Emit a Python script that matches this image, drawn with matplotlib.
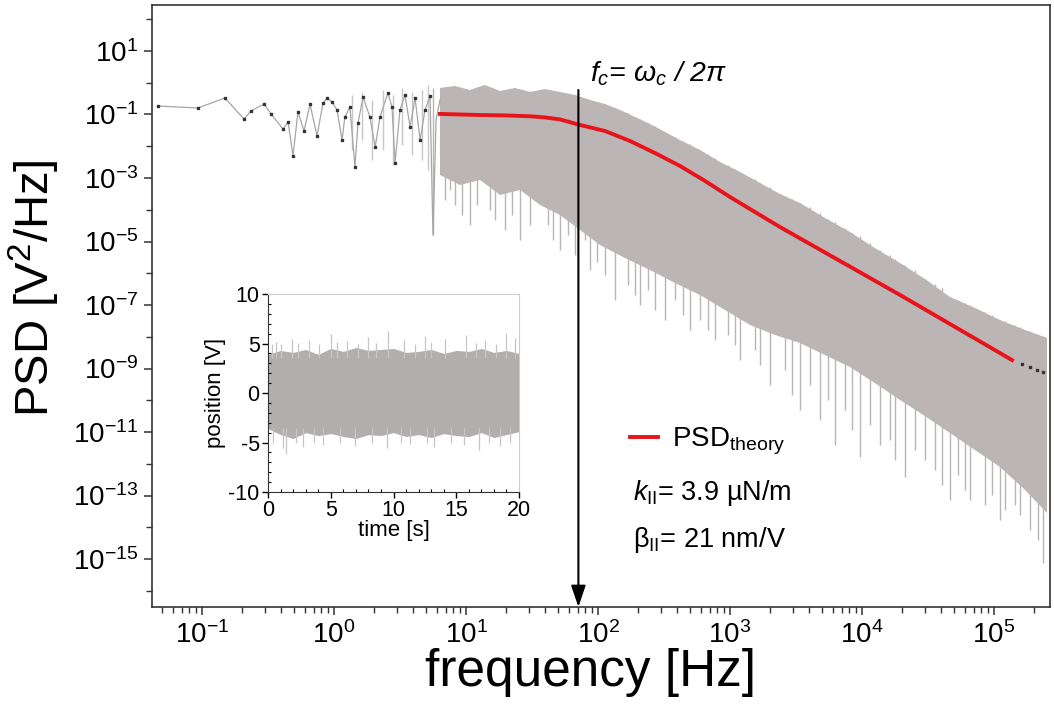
import numpy as np
import matplotlib
matplotlib.use("Agg")
import matplotlib.pyplot as plt
from matplotlib.ticker import FixedLocator, NullFormatter, LogFormatterSciNotation, MultipleLocator

plt.rcParams['font.family'] = ['Liberation Sans', 'DejaVu Sans']
plt.rcParams['mathtext.fontset'] = 'custom'
plt.rcParams['mathtext.rm'] = 'Liberation Sans'
plt.rcParams['mathtext.it'] = 'Liberation Sans:italic'
plt.rcParams['mathtext.bf'] = 'Liberation Sans:bold'
plt.rcParams['axes.unicode_minus'] = False

# --- low frequency part of the measured PSD (thin line with points) ---
low_f = [0.0464, 0.093, 0.149, 0.208, 0.235, 0.295, 0.333, 0.411, 0.449, 0.489,
         0.533, 0.593, 0.658, 0.743, 0.826, 0.885, 0.966, 1.054, 1.15, 1.21,
         1.32, 1.44, 1.52, 1.66, 1.87, 2.05, 2.23, 2.56, 2.75, 2.90,
         3.16, 3.45, 3.77, 4.11, 4.49, 4.89, 5.34, 5.62, 5.93, 6.35]
low_psd = [0.185, 0.160, 0.331, 0.0721, 0.129, 0.214, 0.104, 0.0349, 0.0581, 0.00493,
           0.120, 0.0302, 0.214, 0.0210, 0.230, 0.331, 0.248, 0.139, 0.0157, 0.0834,
           0.172, 0.00222, 0.0540, 0.356, 0.0834, 0.00946, 0.0834, 0.475, 0.172, 0.00296,
           0.139, 0.411, 0.0404, 0.331, 0.0157, 0.139, 0.383, 1.60e-5, 0.0671, 0.286]

# raw noisy strokes in the sparse region (frequency, low, high)
raw_f = [1.37, 1.63, 1.94, 2.35, 2.80, 3.27, 3.90, 4.64, 5.16]
raw_lo = [0.00762, 0.0157, 0.00369, 0.00762, 0.00256, 0.0109, 0.00530, 0.00369, 0.00179]
raw_hi = [0.411, 0.512, 0.286, 0.592, 0.411, 0.684, 0.512, 0.592, 0.849]

# --- envelope of the dense measured PSD band ---
upper_f = [6.35, 8.26, 10.7, 13.9, 18.1, 23.5, 30.5, 39.6, 51.5, 66.9,
           86.9, 113, 147, 191, 248, 322, 418, 593, 840, 1190,
           1690, 2390, 3390, 5240, 8110, 12500, 19400, 30000, 46400, 71800,
           111000, 172000, 252000]
upper_psd = [0.684, 0.791, 0.592, 0.849, 0.550, 0.684, 0.512, 0.635, 0.512, 0.411,
             0.286, 0.214, 0.139, 0.0834, 0.0502, 0.0281, 0.0157, 0.00762, 0.00319, 0.00155,
             6.97e-4, 3.13e-4, 1.63e-4, 5.50e-5, 1.99e-5, 6.24e-6, 2.10e-6, 6.59e-7, 1.79e-7, 8.05e-8,
             3.37e-8, 1.63e-8, 9.14e-9]
lower_f = [6.35, 9.0, 12.8, 18.1, 25.7, 36.4, 51.5, 73.1, 103.5, 160,
           248, 383, 593, 916, 1420, 2190, 3390, 5240, 8110, 12500,
           19400, 30000, 46400, 71800, 111000, 172000, 252000]
lower_psd = [1.24e-3, 6.03e-4, 8.65e-4, 2.92e-4, 4.19e-4, 1.41e-4, 6.84e-5, 2.30e-5, 7.76e-6, 3.02e-6,
             1.26e-6, 4.93e-7, 2.07e-7, 6.97e-8, 2.34e-8, 1.14e-8, 6.35e-9, 2.66e-9, 1.11e-9, 3.49e-10,
             1.02e-10, 3.19e-11, 9.31e-12, 2.71e-12, 7.91e-13, 1.49e-13, 2.81e-14]

# downward spikes of the band (frequency, lowest value)
spike_f = [5.62, 6.93, 7.57, 8.26, 9.33, 10.7, 12.1, 15.2, 16.6, 19.8,
           22.3, 25.7, 30.5, 41.8, 45.6, 51.5, 59.3, 66.9, 79.8, 86.9,
           98.2, 113, 135, 169, 191, 208, 239, 270, 322, 383,
           441, 498, 593, 681, 769, 966, 1090, 1190, 1545, 1690,
           2010, 2610, 2950, 3390, 4040, 4810, 5520, 6240, 7430, 8390,
           9660, 11500, 13700, 16300, 17800, 21200, 25200, 30000, 35700, 40400,
           46400, 53400, 60300, 65800, 85500, 96500, 111000, 121000, 144000, 157000,
           187000, 215000, 235000]
spike_psd = [1.60e-5, 2.03e-4, 4.19e-4, 1.41e-4, 6.84e-5, 3.31e-5, 1.41e-4, 9.82e-5, 4.75e-5, 2.30e-5,
             6.84e-5, 1.11e-5, 3.31e-5, 3.31e-5, 1.11e-5, 5.40e-6, 1.60e-5, 3.76e-6, 1.11e-5, 1.26e-6,
             2.26e-6, 8.81e-7, 1.44e-7, 4.27e-7, 2.07e-7, 1.0e-7, 2.96e-7, 6.97e-8, 3.37e-8, 1.44e-7,
             4.84e-8, 1.63e-8, 3.37e-8, 1.63e-8, 7.91e-9, 1.14e-8, 5.50e-9, 1.85e-9, 3.83e-9, 1.29e-9,
             3.02e-10, 8.97e-10, 1.46e-10, 4.93e-11, 3.02e-10, 2.39e-11, 1.02e-10, 3.90e-12, 4.93e-11, 1.16e-11,
             1.63e-12, 1.66e-11, 3.90e-12, 5.60e-12, 1.31e-12, 3.83e-13, 2.71e-12, 1.31e-12, 6.35e-13, 2.14e-13,
             7.21e-14, 4.43e-13, 1.49e-13, 7.21e-14, 5.02e-14, 1.04e-13, 1.69e-14, 3.49e-14, 5.02e-14, 2.43e-14,
             8.18e-15, 3.96e-15, 7.48e-16]

# binned points past the end of the fit
tail_f = [163000, 187000, 212000, 235000]
tail_psd = [1.39e-9, 1.11e-9, 8.97e-10, 7.76e-10]

# --- theory curve ---
theory_f = [6.35, 12.8, 19.8, 30.5, 39.6, 51.5, 73.1, 113, 175, 270, 418, 647,
            1000, 1545, 2390, 19400, 136800]
theory_psd = [0.104, 0.0964, 0.0935, 0.0880, 0.0810, 0.0700, 0.0467, 0.0302, 0.0146, 0.00612,
              0.00239, 8.05e-4, 2.52e-4, 8.49e-5, 2.86e-5, 2.07e-7, 1.85e-9]

f_corner = 71

# --- inset time trace envelope ---
trace_t = list(range(21))
trace_upper = [3.9, 4.3, 4.1, 4.4, 3.9, 4.5, 4.2, 4.6, 4.3, 4.4, 4.5,
               4.1, 4.2, 4.4, 4.0, 4.3, 4.2, 4.5, 4.1, 4.3, 4.0]
trace_lower = [-3.6, -4.2, -4.6, -4.0, -4.3, -4.1, -4.4, -4.6, -4.2, -4.3, -4.0,
               -4.4, -4.2, -4.5, -4.1, -4.3, -4.4, -4.0, -4.5, -4.2, -3.9]
peak_t = [0.3, 0.6, 1.0, 1.9, 2.4, 3.3, 4.1, 5.0, 5.5, 6.3, 7.2, 8.0, 8.6, 9.6,
          10.8, 11.7, 12.5, 13.0, 14.1, 15.8, 16.6, 17.3, 18.2, 19.0, 19.7]
peak_v = [5.0, 5.2, 4.9, 5.5, 5.1, 5.4, 5.0, 6.0, 5.2, 5.3, 5.0, 5.7, 5.1, 6.3,
          5.4, 5.0, 5.8, 5.2, 5.5, 5.9, 5.1, 5.4, 5.0, 6.1, 5.6]
dip_t = [0.4, 1.2, 1.4, 2.2, 2.8, 3.7, 4.4, 5.7, 6.9, 8.3, 9.5, 10.6, 11.3,
         12.7, 13.2, 14.6, 15.6, 16.8, 17.6, 18.5, 19.3]
dip_v = [-5.0, -5.6, -6.2, -5.1, -5.5, -5.0, -5.3, -5.1, -5.4, -5.0, -5.6, -5.1, -5.2,
         -5.0, -5.5, -5.1, -5.3, -5.8, -5.0, -5.4, -5.1]

grey = '#bcb5b6'
red = '#e8141b'

fig = plt.figure(figsize=(10.54, 7.11), dpi=100)
ax = fig.add_axes([0.1442, 0.1463, 0.8520, 0.8467])
ax.set_xscale('log')
ax.set_yscale('log')

# band
band_f = np.r_[upper_f, lower_f[::-1]]
band_p = np.r_[upper_psd, lower_psd[::-1]]
ax.fill(band_f, band_p, color=grey, lw=0, zorder=1)
ax.vlines(spike_f, spike_psd, np.interp(np.log10(spike_f), np.log10(upper_f), upper_psd),
          color=grey, lw=1.0, zorder=1)
ax.vlines(raw_f, raw_lo, raw_hi, color='#cbc6c7', lw=1.0, zorder=1)
ax.plot(low_f, low_psd, color='#a9a4a5', lw=0.9, zorder=2)
ax.plot(low_f[:-3], low_psd[:-3], ls='none', marker='s', ms=1.5, color='#333333', zorder=3)
ax.plot(tail_f, tail_psd, ls='none', marker='s', ms=1.5, color='#333333', zorder=3)

theory_line, = ax.plot(theory_f, theory_psd, color=red, lw=2.8, zorder=4,
                       solid_joinstyle='round', label=r'PSD$_{\mathrm{theory}}$')

ax.set_xlim(10 ** -1.379, 10 ** 5.424)
ax.set_ylim(10 ** -16.51, 10 ** 2.449)

ax.xaxis.set_major_locator(FixedLocator([10.0 ** k for k in range(-1, 6)]))
ax.xaxis.set_minor_locator(FixedLocator([m * 10.0 ** k for k in range(-2, 6) for m in range(2, 10)]))
ax.xaxis.set_major_formatter(LogFormatterSciNotation())
ax.xaxis.set_minor_formatter(NullFormatter())
ax.yaxis.set_major_locator(FixedLocator([10.0 ** k for k in range(-15, 2, 2)]))
ax.yaxis.set_minor_locator(FixedLocator([10.0 ** k for k in range(-16, 3, 2)]))
ax.yaxis.set_major_formatter(LogFormatterSciNotation())
ax.yaxis.set_minor_formatter(NullFormatter())

ax.tick_params(which='major', direction='out', length=6, width=1.1, labelsize=20, color='#333333', pad=4)
ax.tick_params(which='minor', direction='out', length=4, width=1.0, color='#333333')
for s in ax.spines.values():
    s.set_linewidth(1.2)
    s.set_color('#333333')

ax.set_xlabel('frequency [Hz]', fontsize=37)
ax.set_ylabel(r'PSD [V$^2$/Hz]', fontsize=34)
ax.xaxis.set_label_coords(0.488, -0.068, transform=ax.transAxes)
ax.yaxis.set_label_coords(-0.100, 0.53, transform=ax.transAxes)

# corner frequency arrow
ax.annotate('', xy=(f_corner, 0), xycoords=('data', 'axes fraction'),
            xytext=(f_corner, 0.8588), textcoords=('data', 'axes fraction'),
            arrowprops=dict(arrowstyle='-|>,head_length=0.65,head_width=0.22', color='black',
                            lw=1.5, shrinkA=0, shrinkB=0, mutation_scale=20), zorder=5)
fig.text(0.5598, 0.886, r'$f_c$= $\omega_c$ / 2$\pi$', fontsize=20.5, style='italic')

ax.legend(handles=[theory_line], loc='lower left', bbox_to_anchor=(0.598, 0.357),
          bbox_transform=fig.transFigure, frameon=False, handlelength=1.0, handletextpad=0.5,
          borderpad=0, borderaxespad=0, fontsize=20)
fig.text(0.6006, 0.2968, r'$k_{\mathrm{II}}$= 3.9 µN/m', fontsize=19.5)
fig.text(0.6006, 0.2307, r'β$_{\mathrm{II}}$= 21 nm/V', fontsize=19.5)

# --- inset ---
axi = fig.add_axes([0.2543, 0.308, 0.2381, 0.2785])
axi.vlines(peak_t, 3.5, peak_v, color='#c9c5c5', lw=0.9)
axi.vlines(dip_t, dip_v, -3.5, color='#c9c5c5', lw=0.9)
axi.fill_between(trace_t, trace_lower, trace_upper, color='#b3aeae', lw=0)
axi.set_xlim(0, 20)
axi.set_ylim(-10, 10)
axi.xaxis.set_major_locator(MultipleLocator(5))
axi.xaxis.set_minor_locator(MultipleLocator(1))
axi.yaxis.set_major_locator(MultipleLocator(5))
axi.yaxis.set_minor_locator(MultipleLocator(1))
axi.tick_params(which='major', direction='out', length=4, width=1.0, labelsize=15.5, pad=2)
axi.tick_params(which='minor', direction='in', length=2.5, width=0.8)
axi.spines['left'].set_color('#333333')
axi.spines['bottom'].set_color('#333333')
axi.spines['top'].set_color('#cccccc')
axi.spines['right'].set_color('#cccccc')
axi.set_xlabel('time [s]', fontsize=16, labelpad=-1)
axi.set_ylabel('position [V]', fontsize=16, labelpad=2)

fig.savefig('out.png', dpi=100)
